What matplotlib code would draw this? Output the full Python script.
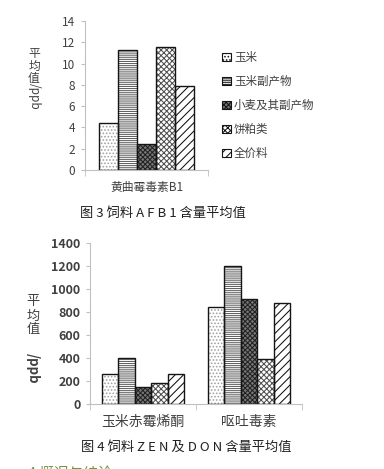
import numpy as np
import matplotlib.pyplot as plt
from matplotlib.patches import Patch

plt.rcParams['font.family'] = ['Noto Sans CJK SC', 'DejaVu Sans']
plt.rcParams['hatch.linewidth'] = 0.75

# DATOS
series = ['玉米', '玉米副产物', '小麦及其副产物', '饼粕类', '全价料']
afb1 = [4.4, 11.3, 2.4, 11.6, 7.9]
cat_top = ['黄曲霉毒素B1']
cat_bot = ['玉米赤霉烯酮', '呕吐毒素']
zen = [265, 400, 145, 185, 265]
don = [845, 1200, 915, 390, 880]

# estilos de relleno de cada serie
faces = ['white', 'white', '#777777', 'white', 'white']
hatches = ['.....', '--------', 'xxxxxxx', 'xxxxxx', '////']
hcolors = ['#a0a0a0', '#606060', '#222222', '#505050', '#101010']

W, H = 384, 469
fig = plt.figure(figsize=(W / 100, H / 100), dpi=100)
txt = '#404040'
axc = '#c0c0c0'


def px_axes(x0, x1, y0, y1):
    # y0 = fila del eje cero, y1 = fila del tope
    return fig.add_axes([x0 / W, (H - y0) / H, (x1 - x0) / W, (y0 - y1) / H])


def bars(ax, cats, vals_by_series, width):
    x = np.arange(len(cats))
    for i in range(len(series)):
        pos = x + (i - 2) * width
        v = [vals[i] for vals in vals_by_series]
        ax.bar(pos, v, width, color=faces[i], hatch=hatches[i],
               edgecolor=hcolors[i], linewidth=0, zorder=2)
        ax.bar(pos, v, width, fill=False, edgecolor='#151515',
               linewidth=1.0, zorder=3)


def style(ax, cats, ylim, step, fs_tick, fs_cat, bold=False):
    ax.set_ylim(0, ylim)
    ax.set_xlim(-0.5, len(cats) - 0.5)
    ax.set_yticks(np.arange(0, ylim + 1, step))
    for s in ['top', 'right']:
        ax.spines[s].set_visible(False)
    ax.spines['left'].set_color(axc)
    ax.spines['bottom'].set_color(axc)
    ax.tick_params(axis='y', colors=axc, length=3, pad=4,
                   labelsize=fs_tick, labelcolor=txt)
    for t in ax.get_yticklabels():
        if bold:
            t.set_fontweight('bold')
    ax.set_xticks(np.arange(len(cats)))
    ax.set_xticklabels(cats, fontsize=fs_cat, color=txt)
    ax.tick_params(axis='x', length=0, pad=8)
    ax.set_xticks(np.arange(len(cats) + 1) - 0.5, minor=True)
    ax.tick_params(axis='x', which='minor', length=4, color=axc)


# GRAFICA 1
ax1 = px_axes(85, 208, 170, 21)
bars(ax1, cat_top, [afb1], 0.156)
style(ax1, cat_top, 14, 2, 8.5, 8.5)

handles = [Patch(facecolor=faces[i], hatch=hatches[i], edgecolor='#151515',
                 linewidth=0.8) for i in range(len(series))]
ax1.legend(handles, series, loc='upper left', bbox_to_anchor=(1.08, 0.83),
           frameon=False, fontsize=8.3, handlelength=0.75, handleheight=0.75,
           handletextpad=0.25, labelspacing=0.95, labelcolor=txt,
           borderaxespad=0)

fig.text(34 / W, 1 - 66 / H, '平\n均\n值', ha='center', va='center',
         fontsize=8.5, color=txt, linespacing=0.95)
fig.text(34 / W, 1 - 96 / H, '/ppb', ha='center', va='center',
         fontsize=8.5, color=txt, rotation=-90)

fig.text(163 / W, 1 - 213 / H, '图 3 饲料 A F B 1 含量平均值', ha='center',
         va='center', fontsize=9.5, color='#202020')

# GRAFICA 2
ax2 = px_axes(90, 302, 404, 243)
bars(ax2, cat_bot, [zen, don], 0.155)
style(ax2, cat_bot, 1400, 200, 9, 10, bold=True)

fig.text(33 / W, 1 - 316 / H, '平\n均\n值', ha='center', va='center',
         fontsize=9.5, color=txt, linespacing=1.1)
fig.text(33 / W, 1 - 368 / H, '/ppb', ha='center', va='center',
         fontsize=9.5, color=txt, rotation=-90, fontweight='bold')

fig.text(186 / W, 1 - 447 / H, '图 4 饲料 Z E N 及 D O N 含量平均值',
         ha='center', va='center', fontsize=9.5, color='#202020')
fig.text(28 / W, 1 - 474 / H, '4 概况与结论', ha='left', va='center',
         fontsize=10.5, color='#6a9a3a')

fig.savefig('out.png', dpi=100)
